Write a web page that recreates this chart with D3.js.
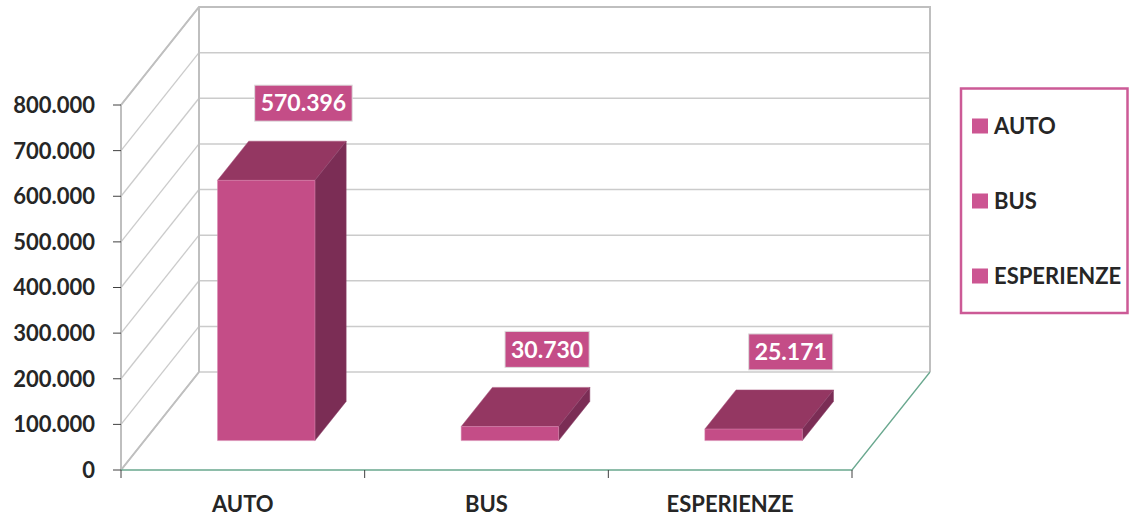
<!DOCTYPE html>
<html>
<head>
<meta charset="utf-8">
<script src="https://cdn.jsdelivr.net/npm/d3@7"></script>
<style>
  body { margin: 0; background: #fff; }
  svg { display: block; font-family: Lato, "Open Sans", sans-serif; }
</style>
</head>
<body>
<svg id="chart" width="1129" height="519"></svg>
<script>
// chart values
var categories = ['AUTO', 'BUS', 'ESPERIENZE'];
var values = [570396, 30730, 25171];
var valueLabels = ['570.396', '30.730', '25.171'];
var tickValues = [0, 100000, 200000, 300000, 400000, 500000, 600000, 700000, 800000];
var tickLabels = ['0', '100.000', '200.000', '300.000', '400.000', '500.000', '600.000', '700.000', '800.000'];

var svg = d3.select('#chart');
var DX = 78, DY = 98;               // depth offset of the back wall
var barDepth0 = 0.3, barDepth1 = 0.7; // bar placed in middle of the depth
var colors = {front: '#c44d87', top: '#943762', side: '#7b2d55', grid: '#cbcbcb', frame: '#bfbfbf', floor: '#6aa88f'};

var x = d3.scaleBand().domain(categories).range([121, 852]).padding(0);
var y = d3.scaleLinear().domain([0, 800000]).range([470, 105]);

// project a point at depth d (0 = front, 1 = back)
function proj(px, py, d) { return [px + d * DX, py - d * DY]; }
function poly(pts) { return 'M' + pts.map(function (p) { return p[0] + ',' + p[1]; }).join('L') + 'Z'; }

var x0 = x.range()[0], x1 = x.range()[1];
var walls = svg.append('g').attr('class', 'walls');

// back wall gridlines
walls.selectAll('line.back-grid')
    .data(tickValues).enter().append('line')
    .attr('class', 'back-grid')
    .attr('x1', x0 + DX).attr('x2', x1 + DX)
    .attr('y1', function (d) { return y(d) - DY; })
    .attr('y2', function (d) { return y(d) - DY; })
    .attr('stroke', colors.grid).attr('stroke-width', 1.5);

// side wall gridlines
walls.selectAll('line.side-grid')
    .data(tickValues).enter().append('line')
    .attr('class', 'side-grid')
    .attr('x1', x0).attr('x2', x0 + DX)
    .attr('y1', function (d) { return y(d); })
    .attr('y2', function (d) { return y(d) - DY; })
    .attr('stroke', colors.grid).attr('stroke-width', 1.3);

// wall frame
var yTop = y(800000), yBot = y(0);
walls.append('path')
    .attr('d', 'M' + x0 + ',' + yBot + 'L' + x0 + ',' + yTop + 'L' + (x0 + DX) + ',' + (yTop - DY) +
        'L' + (x1 + DX) + ',' + (yTop - DY) + 'L' + (x1 + DX) + ',' + (yBot - DY) +
        'M' + (x0 + DX) + ',' + (yTop - DY) + 'L' + (x0 + DX) + ',' + (yBot - DY) +
        'M' + x0 + ',' + yBot + 'L' + (x0 + DX) + ',' + (yBot - DY))
    .attr('fill', 'none').attr('stroke', colors.frame).attr('stroke-width', 2);

// floor front + right edge
walls.append('path')
    .attr('d', 'M' + x0 + ',' + yBot + 'L' + x1 + ',' + yBot + 'L' + (x1 + DX) + ',' + (yBot - DY))
    .attr('fill', 'none').attr('stroke', colors.floor).attr('stroke-width', 1.3);

// y axis ticks and labels
var yAxis = svg.append('g').attr('class', 'y-axis');
yAxis.selectAll('line').data(tickValues).enter().append('line')
    .attr('x1', x0 - 8).attr('x2', x0)
    .attr('y1', function (d) { return y(d); }).attr('y2', function (d) { return y(d); })
    .attr('stroke', '#404040').attr('stroke-width', 1);
yAxis.selectAll('text').data(tickValues).enter().append('text')
    .attr('x', 95).attr('y', function (d) { return y(d); })
    .attr('dy', '0.36em')
    .attr('text-anchor', 'end')
    .attr('font-size', 22).attr('font-weight', 'bold').attr('fill', '#262626')
    .text(function (d, i) { return tickLabels[i]; });

// x axis ticks and labels
var xTicks = categories.map(function (c) { return x(c); }).concat([x1]);
svg.append('g').selectAll('line').data(xTicks).enter().append('line')
    .attr('x1', function (d) { return d; }).attr('x2', function (d) { return d; })
    .attr('y1', yBot).attr('y2', yBot + 8)
    .attr('stroke', '#404040').attr('stroke-width', 1);
svg.append('g').selectAll('text').data(categories).enter().append('text')
    .attr('x', function (d) { return x(d) + x.bandwidth() / 2; })
    .attr('y', 512)
    .attr('text-anchor', 'middle')
    .attr('font-size', 22).attr('font-weight', 'bold').attr('fill', '#262626')
    .text(function (d) { return d; });

// 3d bars
var barW = x.bandwidth() * 0.4;
var bars = svg.append('g').attr('class', 'bars').selectAll('g')
    .data(categories).enter().append('g');
function corners(c, i) {
    var left = x(c) + (x.bandwidth() - barW) / 2, right = left + barW;
    return {left: left, right: right, top: y(values[i]), bottom: y(0)};
}
bars.append('path') // top face
    .attr('d', function (c, i) {
        var k = corners(c, i);
        return poly([proj(k.left, k.top, barDepth0), proj(k.right, k.top, barDepth0),
            proj(k.right, k.top, barDepth1), proj(k.left, k.top, barDepth1)]);
    })
    .attr('fill', colors.top).attr('stroke', '#a8557d').attr('stroke-width', 0.5);
bars.append('path') // side face
    .attr('d', function (c, i) {
        var k = corners(c, i);
        return poly([proj(k.right, k.top, barDepth0), proj(k.right, k.top, barDepth1),
            proj(k.right, k.bottom, barDepth1), proj(k.right, k.bottom, barDepth0)]);
    })
    .attr('fill', colors.side).attr('stroke', '#8a4068').attr('stroke-width', 0.5);
bars.append('path') // front face
    .attr('d', function (c, i) {
        var k = corners(c, i);
        return poly([proj(k.left, k.top, barDepth0), proj(k.right, k.top, barDepth0),
            proj(k.right, k.bottom, barDepth0), proj(k.left, k.bottom, barDepth0)]);
    })
    .attr('fill', colors.front).attr('stroke', '#d98ab0').attr('stroke-width', 0.5);

// data labels above the back top edge of each bar
var labels = svg.append('g').attr('class', 'labels').selectAll('g')
    .data(categories).enter().append('g')
    .attr('transform', function (c, i) {
        var k = corners(c, i);
        var p = proj((k.left + k.right) / 2, k.top, barDepth1);
        return 'translate(' + (p[0] + 6) + ',' + (p[1] - 38) + ')';
    });
labels.append('rect').attr('class', 'box');
labels.append('text')
    .attr('text-anchor', 'middle').attr('dy', '0.36em')
    .attr('font-size', 23).attr('font-weight', 'bold').attr('fill', '#fff')
    .text(function (c, i) { return valueLabels[i]; });
labels.each(function () {
    var g = d3.select(this), w = g.select('text').node().getComputedTextLength() + 12;
    g.select('rect')
        .attr('x', -w / 2).attr('y', -18).attr('width', w).attr('height', 36)
        .attr('fill', colors.front).attr('stroke', '#dcdcdc').attr('stroke-width', 1);
});

// legend
var legend = svg.append('g').attr('class', 'legend');
legend.append('rect')
    .attr('x', 961).attr('y', 88.5).attr('width', 166.5).attr('height', 224.5)
    .attr('fill', '#fff').attr('stroke', '#cc5a96').attr('stroke-width', 2.5);
var items = legend.selectAll('g').data(categories).enter().append('g')
    .attr('transform', function (d, i) { return 'translate(972,' + (126 + i * 75) + ')'; });
items.append('rect')
    .attr('x', 0).attr('y', -7.5).attr('width', 16).attr('height', 15)
    .attr('fill', '#cc5592');
items.append('text')
    .attr('x', 22).attr('dy', '0.36em')
    .attr('font-size', 22).attr('font-weight', 'bold').attr('fill', '#262626')
    .text(function (d) { return d; });
</script>
</body>
</html>
